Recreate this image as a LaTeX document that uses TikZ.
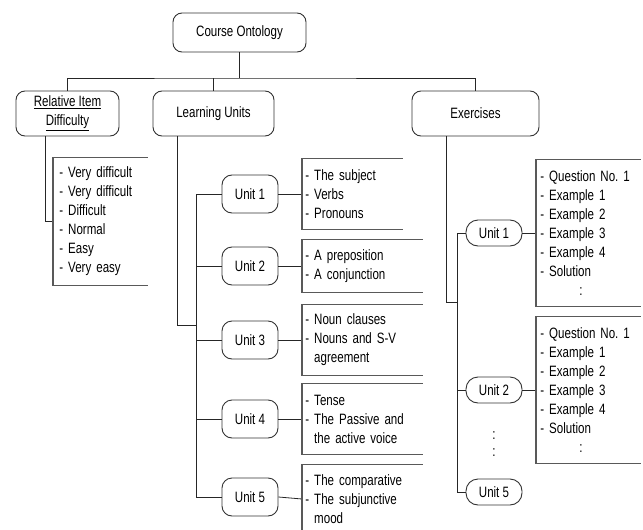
\documentclass[tikz,border=0pt]{standalone}
\usepackage{fontspec}
\setmainfont{Liberation Sans}[FakeStretch=0.77]
\newcommand{\ind}{\hphantom{-\ }}
\tikzset{
  topbox/.style={draw=black!80, rounded corners=9pt, line width=0.9pt, minimum height=45pt, align=center},
  unitbox/.style={draw=black!80, rounded corners=10pt, line width=0.9pt, minimum width=56pt, minimum height=38pt},
  exbox/.style={draw=black!80, rounded corners=12pt, line width=0.9pt, minimum width=56pt, minimum height=26pt},
  itemlist/.style={anchor=west, align=left, inner xsep=3pt, inner ysep=0pt},
  bracket/.style={draw=black!65, line width=1.1pt},
}
\begin{document}
\frenchspacing
\begin{tikzpicture}[x=1pt, y=-1pt, font=\fontsize{15}{19}\selectfont, line width=0.8pt, draw=black!85]
  \useasboundingbox (0,0) rectangle (643,530);
  % top level
  \node[topbox, minimum width=133pt, minimum height=39pt] (root) at (239.5,32.5) {Course Ontology};
  \node[topbox, minimum width=103pt] (rel) at (67.5,113.5) {\underline{Relative Item}\\\underline{Difficulty}};
  \node[topbox, minimum width=121pt] (lu) at (213.5,113.5) {Learning Units};
  \node[topbox, minimum width=127pt] (ex) at (475.5,113.5) {Exercises};
  \coordinate (top) at (239.5,78);
  \draw (root.south) -- (top);
  \draw (rel.north) |- (top) -| (ex.north);
  \draw (lu.north) -- (lu.north |- top);
  % relative item difficulty
  \node[itemlist, inner xsep=6pt, text width=82pt, minimum height=127pt] (rl) at (53,221.5)
    {- Very difficult\\- Very difficult\\- Difficult\\- Normal\\- Easy\\- Very easy};
  \draw ([xshift=30pt]rel.south west) |- (rl.west);
  % learning units
  \node[unitbox] (u1) at (250,194) {Unit 1};
  \node[unitbox] (u2) at (250,266) {Unit 2};
  \node[unitbox] (u3) at (250,340) {Unit 3};
  \node[unitbox] (u4) at (250,419) {Unit 4};
  \node[unitbox] (u5) at (250,497) {Unit 5};
  \node[itemlist, text width=94pt, minimum height=70pt] (ul1) at (302,194) {- The subject\\- Verbs\\- Pronouns};
  \node[itemlist, text width=114pt, minimum height=52pt] (ul2) at (302,266) {- A preposition\\- A conjunction};
  \node[itemlist, text width=114pt, minimum height=70pt] (ul3) at (302,340) {- Noun clauses\\- Nouns and S-V\\\ind agreement};
  \node[itemlist, text width=114pt, minimum height=70pt] (ul4) at (302,419) {- Tense\\- The Passive and\\\ind the active voice};
  \node[itemlist, text width=114pt, minimum height=68pt] (ul5) at (302,499) {- The comparative\\- The subjunctive\\\ind mood};
  \coordinate (lbus) at (196,325);
  \draw ([xshift=25pt]lu.south west) |- (lbus);
  \draw (lbus |- u1.west) -- (lbus |- u5.west);
  \foreach \i in {1,...,5}{
    \draw (u\i.west) -- (u\i.west -| lbus);
    \draw (u\i.east) -- (ul\i.west);
  }
  % exercises
  \node[exbox] (e1) at (494,233) {Unit 1};
  \node[exbox] (e2) at (494,390) {Unit 2};
  \node[exbox] (e5) at (494,492) {Unit 5};
  \node (d1) at (494,436) {:};
  \node (d2) at (494,453) {:};
  \node[itemlist, inner xsep=4pt, text width=96pt, minimum height=146pt] (el1) at (536,233)
    {- Question No. 1\\- Example 1\\- Example 2\\- Example 3\\- Example 4\\- Solution\\\hspace*{39pt}:};
  \node[itemlist, inner xsep=4pt, text width=96pt, minimum height=146pt] (el2) at (536,390)
    {- Question No. 1\\- Example 1\\- Example 2\\- Example 3\\- Example 4\\- Solution\\\hspace*{39pt}:};
  \coordinate (ebus) at (457,302);
  \draw ([xshift=35pt]ex.south west) |- (ebus);
  \draw (ebus |- e1.west) -- (ebus |- e5.west);
  \foreach \i in {1,2,5} \draw (e\i.west) -- (e\i.west -| ebus);
  \foreach \i in {1,2} \draw (e\i.east) -- (el\i.west);
  % brackets
  \foreach \n in {rl,ul1,ul2,ul3,ul4,ul5,el1,el2}
    \draw[bracket] (\n.north east) -| (\n.south west) -- (\n.south east);
\end{tikzpicture}
\end{document}
